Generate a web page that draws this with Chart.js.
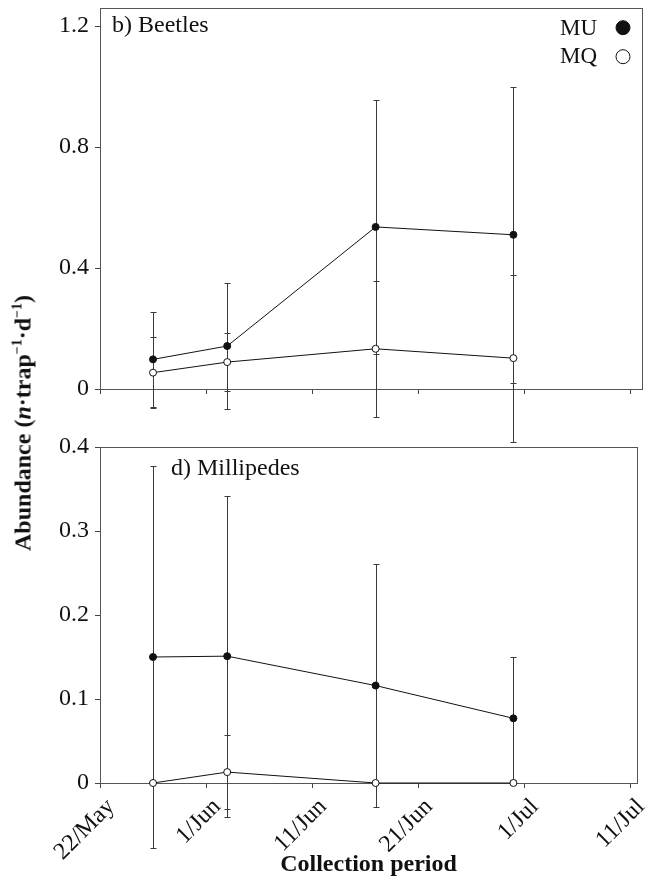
<!DOCTYPE html>
<html>
<head>
<meta charset="utf-8">
<script src="https://cdn.jsdelivr.net/npm/chart.js@4.4.1/dist/chart.umd.min.js"></script>
<style>
  body { margin: 0; background: #fff; }
  #wrap { position: relative; width: 649px; height: 880px; }
  canvas { position: absolute; left: 0; }
  #chart-top { top: 0; }
  #chart-bottom { top: 400px; }
  #ytitle {
    position: absolute; left: 23px; top: 423px;
    transform: translate(-50%, -50%) rotate(-90deg);
    font: bold 24px "Liberation Serif", serif; color: #111; white-space: nowrap;
  }
  #ytitle sup { font-size: 14px; line-height: 0; vertical-align: 9px; }
</style>
</head>
<body>
<div id="wrap">
  <canvas id="chart-top" width="649" height="460"></canvas>
  <canvas id="chart-bottom" width="649" height="480"></canvas>
  <div id="ytitle">Abundance (<i>n</i>·trap<sup>−1</sup>·d<sup>−1</sup>)</div>
</div>
<script>
// sampling dates as days after 22 May
const sampleDays = [5, 12, 26, 39];
const dateTicks = [0, 10, 20, 30, 40, 50];
const dateLabels = ["22/May", "1/Jun", "11/Jun", "21/Jun", "1/Jul", "11/Jul"];

// b) Beetles
const beetlesMU = [0.098, 0.142, 0.536, 0.51];
const beetlesMUerr = [0.158, 0.209, 0.42, 0.49];
const beetlesMQ = [0.054, 0.089, 0.133, 0.102];
const beetlesMQerr = [0.117, 0.095, 0.224, 0.276];
const beetlesTicks = [0, 0.4, 0.8, 1.2];

// d) Millipedes
const milliMU = [0.15, 0.151, 0.116, 0.077];
const milliMUerr = [0.227, 0.191, 0.145, 0.073];
const milliMQ = [0, 0.013, 0, 0];
const milliMQerr = [0, 0.044, 0, 0];
const milliTicks = [0, 0.1, 0.2, 0.3, 0.4];

Chart.defaults.font.family = '"Liberation Serif", "Times New Roman", serif';
Chart.defaults.color = "#111";

const toPoints = (vals) => vals.map((v, i) => ({ x: sampleDays[i], y: v }));
const fmt = (v) => (v === 0 ? "0" : v.toFixed(1));
// keep tick-label overhang from moving the plot box
const noOverhang = (s) => {
    s.paddingTop = 0;
    s.paddingBottom = 0;
    s.paddingLeft = 0;
    s.paddingRight = 0;
};

// box around plot area
const framePlugin = {
    id: "frame",
    beforeDatasetsDraw(chart) {
        const { ctx, chartArea: a } = chart;
        ctx.save();
        ctx.strokeStyle = "#555";
        ctx.lineWidth = 1;
        ctx.strokeRect(Math.round(a.left) + 0.5, Math.round(a.top) + 0.5,
            Math.round(a.right - a.left), Math.round(a.bottom - a.top));
        ctx.restore();
    },
};

// vertical error bars (mean +/- err)
const errorBarPlugin = {
    id: "errorBars",
    beforeDatasetsDraw(chart) {
        const ctx = chart.ctx;
        const yScale = chart.scales.y;
        ctx.save();
        ctx.strokeStyle = "#3a3a3a";
        ctx.lineWidth = 1;
        chart.data.datasets.forEach((ds, i) => {
            const meta = chart.getDatasetMeta(i);
            meta.data.forEach((pt, j) => {
                const e = ds.errors[j];
                if (!e) return;
                const v = ds.data[j].y;
                const x = Math.round(pt.x) + 0.5;
                const top = Math.round(yScale.getPixelForValue(v + e)) + 0.5;
                const bot = Math.round(yScale.getPixelForValue(v - e)) + 0.5;
                ctx.beginPath();
                ctx.moveTo(x, top);
                ctx.lineTo(x, bot);
                ctx.moveTo(x - 3, top);
                ctx.lineTo(x + 3, top);
                ctx.moveTo(x - 3, bot);
                ctx.lineTo(x + 3, bot);
                ctx.stroke();
            });
        });
        ctx.restore();
    },
};

// panel letter + MU/MQ key
const panelTextPlugin = {
    id: "panelText",
    afterDraw(chart, args, opts) {
        const { ctx, chartArea: a } = chart;
        ctx.save();
        ctx.fillStyle = "#111";
        ctx.textBaseline = "alphabetic";
        ctx.textAlign = "left";
        ctx.font = '24px "Liberation Serif", serif';
        ctx.fillText(opts.label, a.left + opts.dx, a.top + opts.dy);
        if (opts.key) {
            ctx.font = '23px "Liberation Serif", serif';
            ctx.textAlign = "right";
            [["MU", true, 35, 27.7], ["MQ", false, 63, 56.7]].forEach(([txt, filled, base, cy]) => {
                ctx.fillText(txt, a.right - 45, base);
                ctx.beginPath();
                ctx.arc(a.right - 19, cy, 7, 0, Math.PI * 2);
                ctx.fillStyle = filled ? "#111" : "#fff";
                ctx.fill();
                ctx.strokeStyle = "#111";
                ctx.lineWidth = 1;
                ctx.stroke();
                ctx.fillStyle = "#111";
            });
        }
        ctx.restore();
    },
};

function series(label, vals, errs, fill) {
    return {
        label: label,
        data: toPoints(vals),
        errors: errs,
        borderColor: "#111",
        borderWidth: 1,
        pointRadius: 3.5,
        pointBorderWidth: 1,
        pointBackgroundColor: fill,
        pointBorderColor: "#111",
        tension: 0,
        clip: false,
    };
}

// b) Beetles
new Chart(document.getElementById("chart-top"), {
    type: "line",
    data: {
        datasets: [
            series("MU", beetlesMU, beetlesMUerr, "#111"),
            series("MQ", beetlesMQ, beetlesMQerr, "#fff"),
        ],
    },
    options: {
        responsive: false,
        animation: false,
        layout: { padding: { left: 0, right: 7, top: 8, bottom: 61 } },
        plugins: {
            legend: { display: false },
            tooltip: { enabled: false },
            panelText: { label: "b) Beetles", dx: 12, dy: 24, key: true },
        },
        scales: {
            x: {
                type: "linear",
                min: 0,
                max: 51.13,
                afterBuildTicks: (s) => { s.ticks = dateTicks.map((v) => ({ value: v })); },
                afterFit: (s) => { s.height = 10; noOverhang(s); },
                border: { display: false },
                grid: { drawOnChartArea: false, tickLength: 5, tickColor: "#444" },
                ticks: { display: false },
            },
            y: {
                min: 0,
                max: 1.26,
                afterBuildTicks: (s) => { s.ticks = beetlesTicks.map((v) => ({ value: v })); },
                afterFit: (s) => { s.width = 100; noOverhang(s); },
                border: { display: false },
                grid: { drawOnChartArea: false, tickLength: 5, tickColor: "#444" },
                ticks: { padding: 6, font: { size: 24 }, callback: fmt },
            },
        },
    },
    plugins: [framePlugin, errorBarPlugin, panelTextPlugin],
});

// d) Millipedes
new Chart(document.getElementById("chart-bottom"), {
    type: "line",
    data: {
        datasets: [
            series("MU", milliMU, milliMUerr, "#111"),
            series("MQ", milliMQ, milliMQerr, "#fff"),
        ],
    },
    options: {
        responsive: false,
        animation: false,
        layout: { padding: { left: 0, right: 12, top: 47, bottom: 0 } },
        plugins: {
            legend: { display: false },
            tooltip: { enabled: false },
            panelText: { label: "d) Millipedes", dx: 71, dy: 28, key: false },
        },
        scales: {
            x: {
                type: "linear",
                min: 0,
                max: 50.66,
                afterBuildTicks: (s) => { s.ticks = dateTicks.map((v) => ({ value: v })); },
                afterFit: (s) => { s.height = 97; noOverhang(s); },
                border: { display: false },
                grid: { drawOnChartArea: false, tickLength: 5, tickColor: "#444" },
                ticks: {
                    autoSkip: false,
                    minRotation: 45,
                    maxRotation: 45,
                    padding: 5,
                    labelOffset: 11,
                    font: { size: 24 },
                    callback: (v) => dateLabels[dateTicks.indexOf(v)],
                },
                title: {
                    display: true,
                    text: "Collection period",
                    font: { size: 24, weight: "bold" },
                    padding: { top: 0, bottom: 1 },
                },
            },
            y: {
                min: 0,
                max: 0.4,
                afterBuildTicks: (s) => { s.ticks = milliTicks.map((v) => ({ value: v })); },
                afterFit: (s) => { s.width = 100; noOverhang(s); },
                border: { display: false },
                grid: { drawOnChartArea: false, tickLength: 5, tickColor: "#444" },
                ticks: { padding: 6, font: { size: 24 }, callback: fmt },
            },
        },
    },
    plugins: [framePlugin, errorBarPlugin, panelTextPlugin],
});
</script>
</body>
</html>
